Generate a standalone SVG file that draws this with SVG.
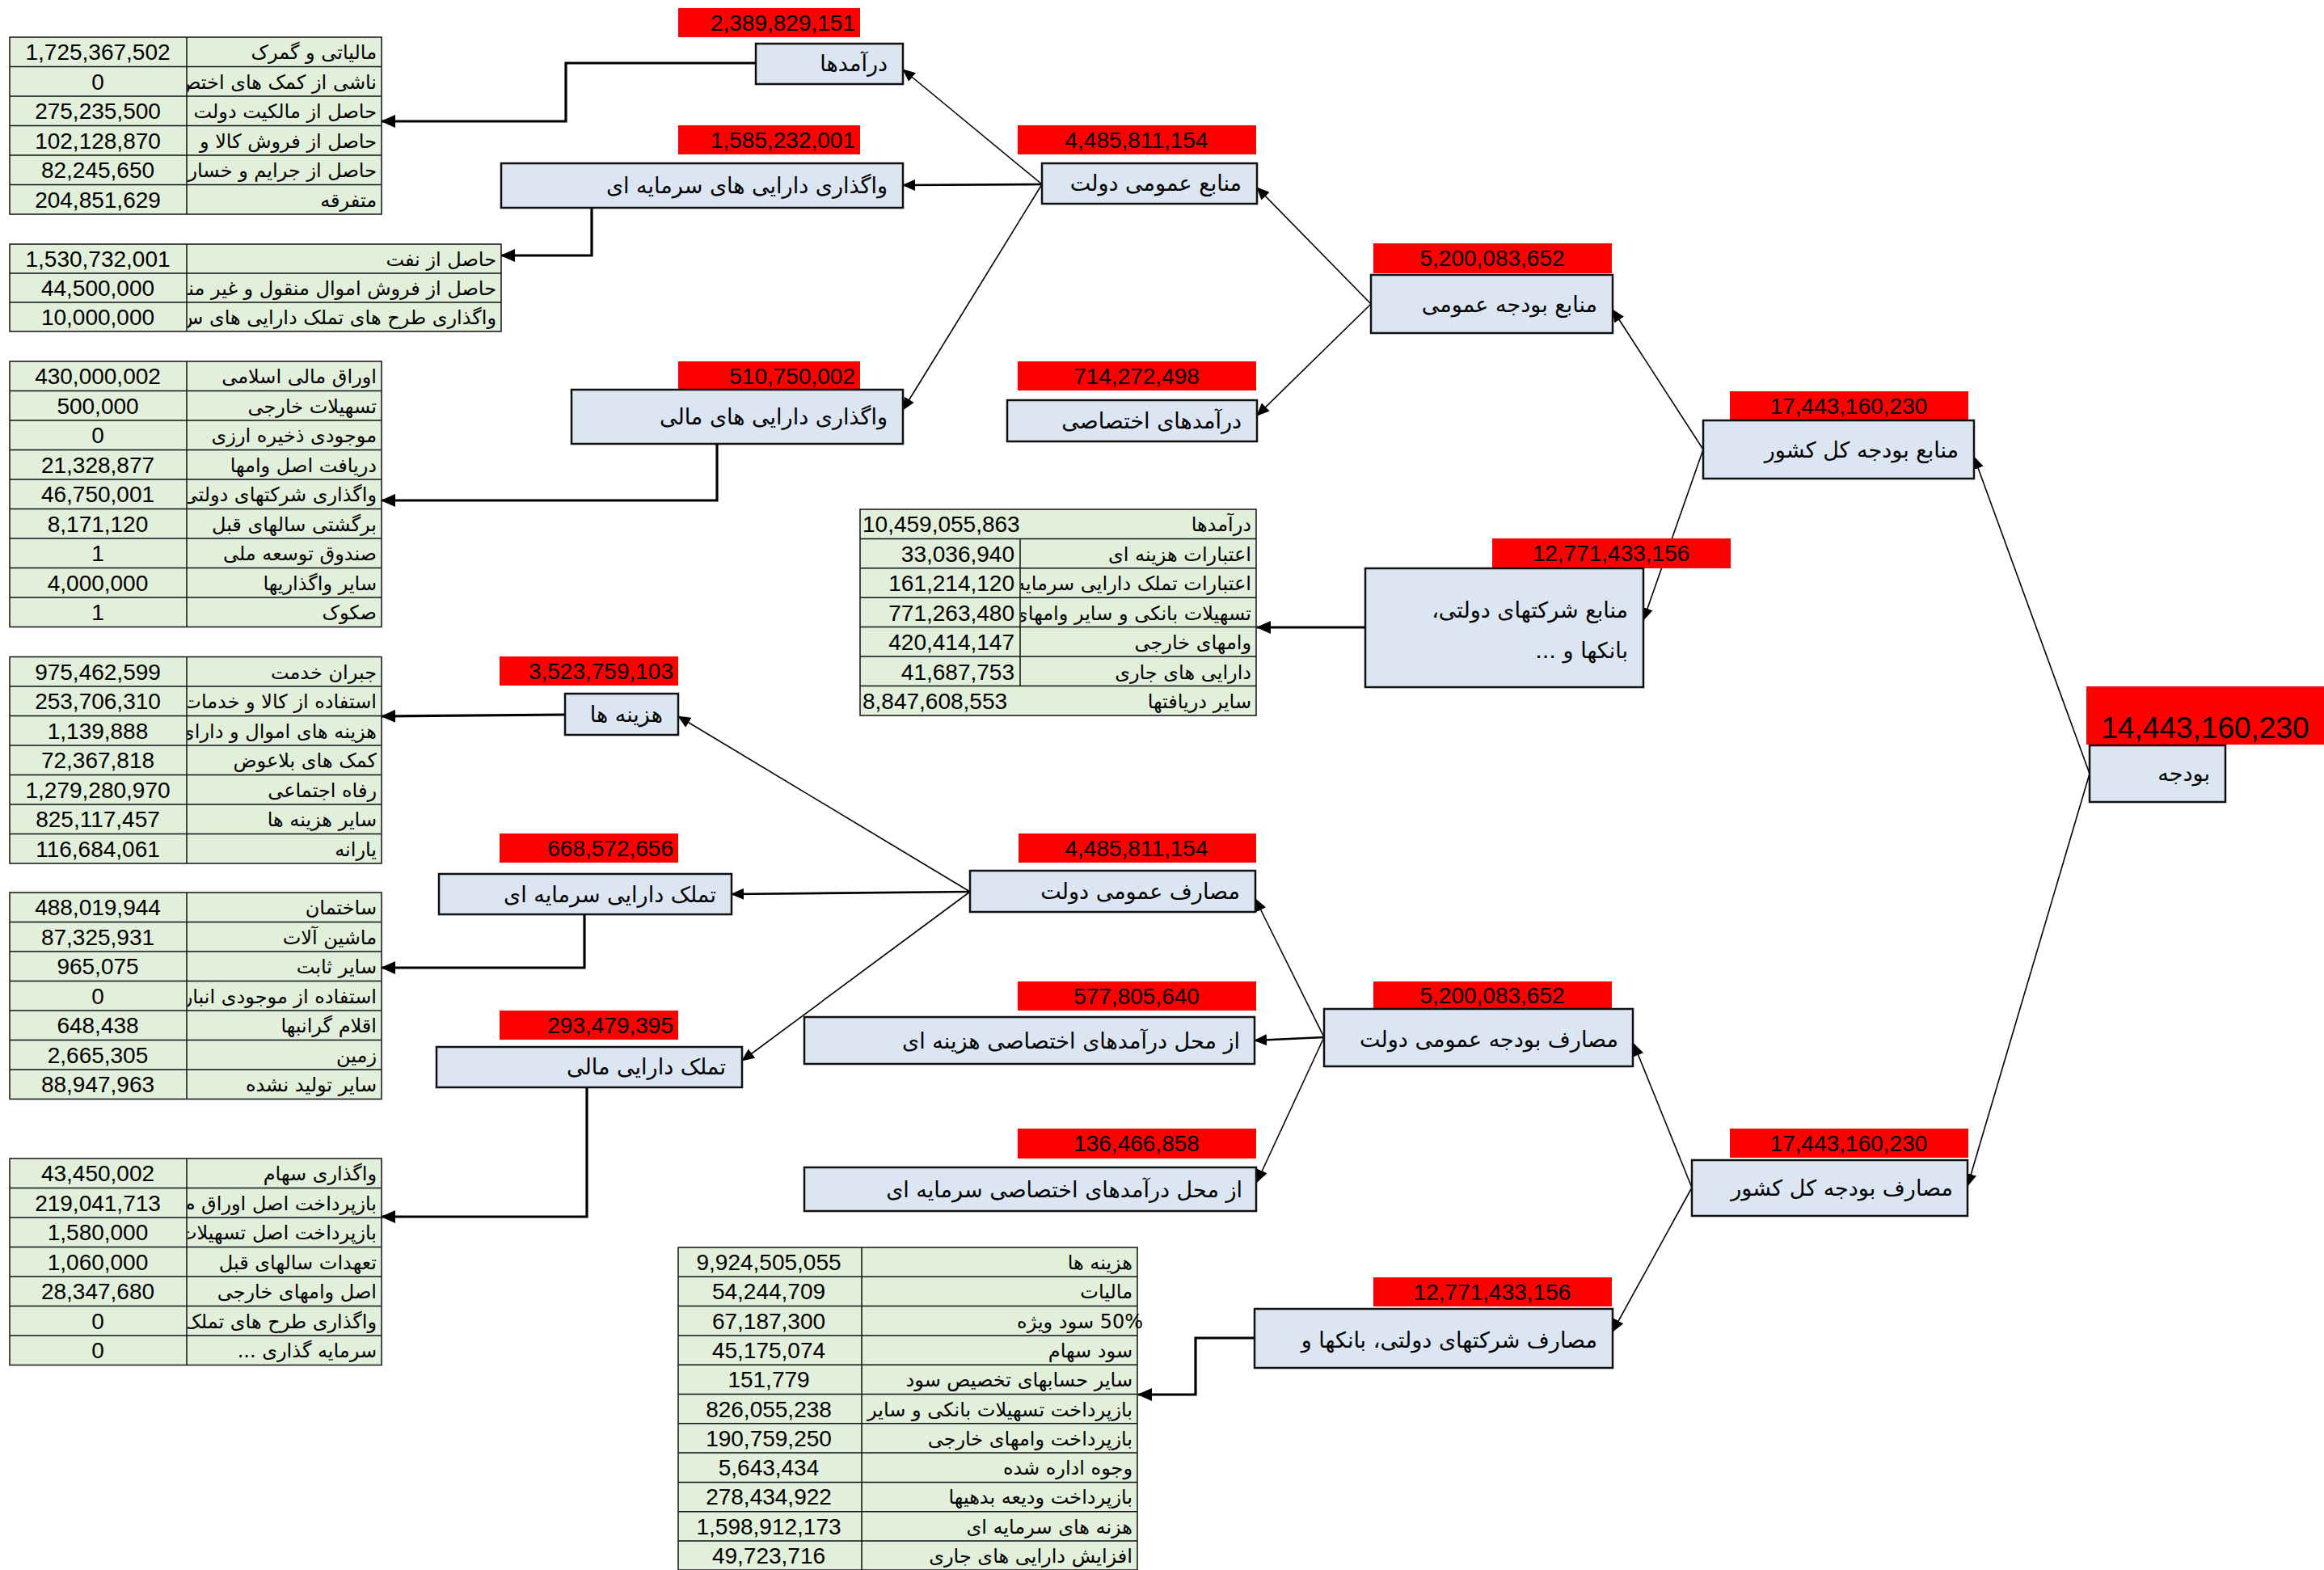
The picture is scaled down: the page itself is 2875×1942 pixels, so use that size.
<svg xmlns="http://www.w3.org/2000/svg" width="2875" height="1942" viewBox="0 0 2875 1942">
<style>
.box{fill:#dce6f2;stroke:#111;stroke-width:2.5}
.lbl{fill:#ff0000}
.num{font-family:"Liberation Sans",Arial,sans-serif;font-size:28px;fill:#000}
.big{font-family:"Liberation Sans",Arial,sans-serif;font-size:37px;fill:#000}
.ar{font-family:"DejaVu Sans",sans-serif;font-size:24px;fill:#000}
.nl{font-family:"DejaVu Sans",sans-serif;font-size:27px;fill:#000}
.tb{fill:#e2efda;stroke:#111;stroke-width:1.5}
.gl{stroke:#111;stroke-width:1.5}
.thin{stroke:#000;stroke-width:1.6;fill:none;marker-end:url(#ah)}
.mid{stroke:#000;stroke-width:2.6;fill:none;marker-end:url(#ah)}
.thick{stroke:#000;stroke-width:3.2;fill:none;marker-end:url(#ahb)}
</style>
<defs>
<marker id="ah" markerUnits="userSpaceOnUse" markerWidth="16" markerHeight="14" refX="15" refY="7" orient="auto"><path d="M0,0 L16,7 L0,14 z" fill="#000"/></marker>
<marker id="ahb" markerUnits="userSpaceOnUse" markerWidth="18" markerHeight="16" refX="17" refY="8" orient="auto"><path d="M0,0 L18,8 L0,16 z" fill="#000"/></marker>
<clipPath id="c1" clipPathUnits="userSpaceOnUse"><rect x="232" y="46" width="240" height="219"/></clipPath>
<clipPath id="c2" clipPathUnits="userSpaceOnUse"><rect x="232" y="302" width="388" height="108"/></clipPath>
<clipPath id="c3" clipPathUnits="userSpaceOnUse"><rect x="232" y="447" width="240" height="329"/></clipPath>
<clipPath id="c4" clipPathUnits="userSpaceOnUse"><rect x="232" y="812" width="240" height="256"/></clipPath>
<clipPath id="c5" clipPathUnits="userSpaceOnUse"><rect x="232" y="1104" width="240" height="256"/></clipPath>
<clipPath id="c6" clipPathUnits="userSpaceOnUse"><rect x="232" y="1433" width="240" height="256"/></clipPath>
<clipPath id="c7" clipPathUnits="userSpaceOnUse"><rect x="1064" y="630" width="490" height="36.4"/><rect x="1263" y="666" width="291" height="183"/><rect x="1064" y="848.6" width="490" height="37"/></clipPath>
<clipPath id="c8" clipPathUnits="userSpaceOnUse"><rect x="1067" y="1543" width="370" height="399"/></clipPath>
</defs>
<rect width="2875" height="1942" fill="#fff"/>

<!-- tables -->
<g id="table-daramadha">
<rect class="tb" x="12" y="46" width="460" height="219"/>
<path class="gl" d="M231,46V265 M12,82.5H472 M12,119H472 M12,155.5H472 M12,192H472 M12,228.5H472"/>
<g class="num" text-anchor="middle"><text x="121" y="74">1,725,367,502</text><text x="121" y="110.5">0</text><text x="121" y="147">275,235,500</text><text x="121" y="183.5">102,128,870</text><text x="121" y="220">82,245,650</text><text x="121" y="256.5">204,851,629</text></g>
<g class="ar" direction="rtl" text-anchor="start" clip-path="url(#c1)"><text x="466" y="73">مالیاتی و گمرک</text><text x="466" y="109.5">ناشی از کمک های اختص</text><text x="466" y="146">حاصل از مالکیت دولت</text><text x="466" y="182.5">حاصل از فروش کالا و</text><text x="466" y="219">حاصل از جرایم و خسار</text><text x="466" y="255.5">متفرقه</text></g>
</g>

<g id="table-sarmayei">
<rect class="tb" x="12" y="302" width="608" height="108"/>
<path class="gl" d="M231,302V410 M12,338H620 M12,374H620"/>
<g class="num" text-anchor="middle"><text x="121" y="330">1,530,732,001</text><text x="121" y="366">44,500,000</text><text x="121" y="402">10,000,000</text></g>
<g class="ar" direction="rtl" text-anchor="start" clip-path="url(#c2)"><text x="614" y="329">حاصل از نفت</text><text x="614" y="365">حاصل از فروش اموال منقول و غیر منق</text><text x="614" y="401">واگذاری طرح های تملک دارایی های س</text></g>
</g>

<g id="table-mali">
<rect class="tb" x="12" y="447" width="460" height="328.5"/>
<path class="gl" d="M231,447V775.5 M12,483.5H472 M12,520H472 M12,556.5H472 M12,593H472 M12,629.5H472 M12,666H472 M12,702.5H472 M12,739H472"/>
<g class="num" text-anchor="middle"><text x="121" y="475">430,000,002</text><text x="121" y="511.5">500,000</text><text x="121" y="548">0</text><text x="121" y="584.5">21,328,877</text><text x="121" y="621">46,750,001</text><text x="121" y="657.5">8,171,120</text><text x="121" y="694">1</text><text x="121" y="730.5">4,000,000</text><text x="121" y="767">1</text></g>
<g class="ar" direction="rtl" text-anchor="start" clip-path="url(#c3)"><text x="466" y="474">اوراق مالی اسلامی</text><text x="466" y="510.5">تسهیلات خارجی</text><text x="466" y="547">موجودی ذخیره ارزی</text><text x="466" y="583.5">دریافت اصل وامها</text><text x="466" y="620">واگذاری شرکتهای دولتی</text><text x="466" y="656.5">برگشتی سالهای قبل</text><text x="466" y="693">صندوق توسعه ملی</text><text x="466" y="729.5">سایر واگذاریها</text><text x="466" y="766">صکوک</text></g>
</g>

<g id="table-hazineha">
<rect class="tb" x="12" y="812.5" width="460" height="255.5"/>
<path class="gl" d="M231,812.5V1068 M12,849H472 M12,885.5H472 M12,922H472 M12,958.5H472 M12,995H472 M12,1031.5H472"/>
<g class="num" text-anchor="middle"><text x="121" y="840.5">975,462,599</text><text x="121" y="877">253,706,310</text><text x="121" y="913.5">1,139,888</text><text x="121" y="950">72,367,818</text><text x="121" y="986.5">1,279,280,970</text><text x="121" y="1023">825,117,457</text><text x="121" y="1059.5">116,684,061</text></g>
<g class="ar" direction="rtl" text-anchor="start" clip-path="url(#c4)"><text x="466" y="839.5">جبران خدمت</text><text x="466" y="876">استفاده از کالا و خدمات</text><text x="466" y="912.5">هزینه های اموال و دارای</text><text x="466" y="949">کمک های بلاعوض</text><text x="466" y="985.5">رفاه اجتماعی</text><text x="466" y="1022">سایر هزینه ها</text><text x="466" y="1058.5">یارانه</text></g>
</g>

<g id="table-tamalok-sarmayei">
<rect class="tb" x="12" y="1104" width="460" height="255.5"/>
<path class="gl" d="M231,1104V1359.5 M12,1140.5H472 M12,1177H472 M12,1213.5H472 M12,1250H472 M12,1286.5H472 M12,1323H472"/>
<g class="num" text-anchor="middle"><text x="121" y="1132">488,019,944</text><text x="121" y="1168.5">87,325,931</text><text x="121" y="1205">965,075</text><text x="121" y="1241.5">0</text><text x="121" y="1278">648,438</text><text x="121" y="1314.5">2,665,305</text><text x="121" y="1351">88,947,963</text></g>
<g class="ar" direction="rtl" text-anchor="start" clip-path="url(#c5)"><text x="466" y="1131">ساختمان</text><text x="466" y="1167.5">ماشین آلات</text><text x="466" y="1204">سایر ثابت</text><text x="466" y="1240.5">استفاده از موجودی انبار</text><text x="466" y="1277">اقلام گرانبها</text><text x="466" y="1313.5">زمین</text><text x="466" y="1350">سایر تولید نشده</text></g>
</g>

<g id="table-tamalok-mali">
<rect class="tb" x="12" y="1433" width="460" height="255.5"/>
<path class="gl" d="M231,1433V1688.5 M12,1469.5H472 M12,1506H472 M12,1542.5H472 M12,1579H472 M12,1615.5H472 M12,1652H472"/>
<g class="num" text-anchor="middle"><text x="121" y="1461">43,450,002</text><text x="121" y="1497.5">219,041,713</text><text x="121" y="1534">1,580,000</text><text x="121" y="1570.5">1,060,000</text><text x="121" y="1607">28,347,680</text><text x="121" y="1643.5">0</text><text x="121" y="1680">0</text></g>
<g class="ar" direction="rtl" text-anchor="start" clip-path="url(#c6)"><text x="466" y="1460">واگذاری سهام</text><text x="466" y="1496.5">بازپرداخت اصل اوراق م</text><text x="466" y="1533">بازپرداخت اصل تسهیلات</text><text x="466" y="1569.5">تعهدات سالهای قبل</text><text x="466" y="1606">اصل وامهای خارجی</text><text x="466" y="1642.5">واگذاری طرح های تملک</text><text x="466" y="1679">سرمایه گذاری ...</text></g>
</g>

<g id="table-manabe-sherkatha">
<rect class="tb" x="1064" y="630" width="490" height="255"/>
<path class="gl" d="M1262,666.4V848.6 M1064,666.4H1554 M1064,702.8H1554 M1064,739.2H1554 M1064,775.6H1554 M1064,812H1554 M1064,848.6H1554"/>
<g class="num"><text x="1067" y="658">10,459,055,863</text><text x="1067" y="876.5">8,847,608,553</text></g>
<g class="num" text-anchor="end"><text x="1255" y="694.5">33,036,940</text><text x="1255" y="731">161,214,120</text><text x="1255" y="767.5">771,263,480</text><text x="1255" y="804">420,414,147</text><text x="1255" y="840.5">41,687,753</text></g>
<g class="ar" direction="rtl" text-anchor="start" clip-path="url(#c7)"><text x="1548" y="657">درآمدها</text><text x="1548" y="693.5">اعتبارات هزینه ای</text><text x="1548" y="730">اعتبارات تملک دارایی سرمایه</text><text x="1548" y="766.5">تسهیلات بانکی و سایر وامهای</text><text x="1548" y="803">وامهای خارجی</text><text x="1548" y="839.5">دارایی های جاری</text><text x="1548" y="876">سایر دریافتها</text></g>
</g>

<g id="table-masaref-sherkatha">
<rect class="tb" x="839" y="1543" width="568" height="399"/>
<path class="gl" d="M1066,1543V1942 M839,1579.3H1407 M839,1615.6H1407 M839,1651.9H1407 M839,1688.2H1407 M839,1724.5H1407 M839,1760.8H1407 M839,1797.1H1407 M839,1833.4H1407 M839,1869.7H1407 M839,1906H1407"/>
<g class="num" text-anchor="middle"><text x="951" y="1571">9,924,505,055</text><text x="951" y="1607.3">54,244,709</text><text x="951" y="1643.6">67,187,300</text><text x="951" y="1679.9">45,175,074</text><text x="951" y="1716.2">151,779</text><text x="951" y="1752.5">826,055,238</text><text x="951" y="1788.8">190,759,250</text><text x="951" y="1825.1">5,643,434</text><text x="951" y="1861.4">278,434,922</text><text x="951" y="1897.7">1,598,912,173</text><text x="951" y="1934">49,723,716</text></g>
<g class="ar" direction="rtl" text-anchor="start" clip-path="url(#c8)"><text x="1401" y="1570">هزینه ها</text><text x="1401" y="1606.3">مالیات</text><text x="1414" y="1642.6">50% سود ویژه</text><text x="1401" y="1678.9">سود سهام</text><text x="1401" y="1715.2">سایر حسابهای تخصیص سود</text><text x="1401" y="1751.5">بازپرداخت تسهیلات بانکی و سایر</text><text x="1401" y="1787.8">بازپرداخت وامهای خارجی</text><text x="1401" y="1824.1">وجوه اداره شده</text><text x="1401" y="1860.4">بازپرداخت ودیعه بدهیها</text><text x="1401" y="1896.7">هزنه های سرمایه ای</text><text x="1401" y="1933">افزایش دارایی های جاری</text></g>
</g>

<!-- connectors -->
<g id="connectors">
<path class="thin" d="M1289,228 L1117,86"/>
<path class="mid" d="M1289,228 L1117,229"/>
<path class="thin" d="M1289,228 L1117,507"/>
<path class="thin" d="M1696,376 L1555,232"/>
<path class="thin" d="M1696,376 L1555,514"/>
<path class="thin" d="M2107,556 L1995,383"/>
<path class="thin" d="M2107,556 L2033,767"/>
<path class="thin" d="M2585,957 L2442,565"/>
<path class="thin" d="M2585,957 L2434,1467"/>
<path class="thin" d="M2093,1469 L2021,1291"/>
<path class="thin" d="M2093,1469 L1995,1647"/>
<path class="thin" d="M1638,1283 L1553,1112"/>
<path class="mid" d="M1638,1283 L1552,1287"/>
<path class="thin" d="M1638,1283 L1555,1462"/>
<path class="thin" d="M1200,1103 L839,886"/>
<path class="mid" d="M1200,1103 L905,1106"/>
<path class="thin" d="M1200,1103 L918,1312"/>
<path class="thick" d="M1689,776 L1555,776"/>
<path class="thick" d="M935,78 H700 V150 H472"/>
<path class="thick" d="M732,257 V316 H620"/>
<path class="thick" d="M887,549 V619 H472"/>
<path class="thick" d="M699,884 L472,886"/>
<path class="thick" d="M723,1131 V1197 H472"/>
<path class="thick" d="M726,1345 V1505 H472"/>
<path class="thick" d="M1552,1655 H1479 V1725 H1408"/>
</g>

<!-- nodes -->
<g id="n-daramadha"><rect class="lbl" x="839" y="10" width="225" height="36"/><text class="num" x="1058" y="38" text-anchor="end">2,389,829,151</text><rect class="box" x="935" y="54" width="182" height="50"/><text class="nl" x="1098" y="88" direction="rtl" text-anchor="start">درآمدها</text></g>
<g id="n-vagozari-sarmayei"><rect class="lbl" x="839" y="155" width="225" height="36"/><text class="num" x="1058" y="183" text-anchor="end">1,585,232,001</text><rect class="box" x="620" y="202" width="497" height="55"/><text class="nl" x="1098" y="239" direction="rtl" text-anchor="start">واگذاری دارایی های سرمایه ای</text></g>
<g id="n-vagozari-mali"><rect class="lbl" x="839" y="447" width="225" height="35"/><text class="num" x="1058" y="475" text-anchor="end">510,750,002</text><rect class="box" x="707" y="482" width="410" height="67"/><text class="nl" x="1098" y="525" direction="rtl" text-anchor="start">واگذاری دارایی های مالی</text></g>
<g id="n-manabe-omumi-dolat"><rect class="lbl" x="1259" y="155" width="295" height="36"/><text class="num" x="1406" y="183" text-anchor="middle">4,485,811,154</text><rect class="box" x="1289" y="202" width="266" height="50"/><text class="nl" x="1536" y="236" direction="rtl" text-anchor="start">منابع عمومی دولت</text></g>
<g id="n-daramadhaye-ekhtesasi"><rect class="lbl" x="1259" y="447" width="295" height="36"/><text class="num" x="1406" y="475" text-anchor="middle">714,272,498</text><rect class="box" x="1246" y="495" width="309" height="51"/><text class="nl" x="1536" y="530" direction="rtl" text-anchor="start">درآمدهای اختصاصی</text></g>
<g id="n-manabe-budje-omumi"><rect class="lbl" x="1699" y="301" width="295" height="37"/><text class="num" x="1846" y="329" text-anchor="middle">5,200,083,652</text><rect class="box" x="1696" y="340" width="299" height="72"/><text class="nl" x="1976" y="386" direction="rtl" text-anchor="start">منابع بودجه عمومی</text></g>
<g id="n-manabe-kol-keshvar"><rect class="lbl" x="2140" y="484" width="295" height="36"/><text class="num" x="2287" y="512" text-anchor="middle">17,443,160,230</text><rect class="box" x="2107" y="520" width="335" height="72"/><text class="nl" x="2423" y="566" direction="rtl" text-anchor="start">منابع بودجه کل کشور</text></g>
<g id="n-manabe-sherkatha"><rect class="lbl" x="1846" y="666" width="295" height="37"/><text class="num" x="1993" y="694" text-anchor="middle">12,771,433,156</text><rect class="box" x="1689" y="703" width="344" height="147"/><text class="nl" x="2014" y="764" direction="rtl" text-anchor="start">منابع شرکتهای دولتی،</text><text class="nl" x="2014" y="814" direction="rtl" text-anchor="start">بانکها و ...</text></g>
<g id="n-budje"><rect class="lbl" x="2581" y="849" width="294" height="72"/><text class="big" x="2728" y="913" text-anchor="middle">14,443,160,230</text><rect class="box" x="2585" y="922" width="168" height="70"/><text class="nl" x="2734" y="966" direction="rtl" text-anchor="start">بودجه</text></g>
<g id="n-hazineha"><rect class="lbl" x="618" y="812" width="221" height="36"/><text class="num" x="833" y="840" text-anchor="end">3,523,759,103</text><rect class="box" x="699" y="858" width="140" height="51"/><text class="nl" x="820" y="893" direction="rtl" text-anchor="start">هزینه ها</text></g>
<g id="n-tamalok-sarmayei"><rect class="lbl" x="618" y="1031" width="221" height="36"/><text class="num" x="833" y="1059" text-anchor="end">668,572,656</text><rect class="box" x="543" y="1081" width="362" height="50"/><text class="nl" x="886" y="1116" direction="rtl" text-anchor="start">تملک دارایی سرمایه ای</text></g>
<g id="n-tamalok-mali"><rect class="lbl" x="618" y="1250" width="221" height="36"/><text class="num" x="833" y="1278" text-anchor="end">293,479,395</text><rect class="box" x="540" y="1295" width="378" height="50"/><text class="nl" x="898" y="1329" direction="rtl" text-anchor="start">تملک دارایی مالی</text></g>
<g id="n-masaref-omumi-dolat"><rect class="lbl" x="1260" y="1031" width="294" height="36"/><text class="num" x="1406" y="1059" text-anchor="middle">4,485,811,154</text><rect class="box" x="1200" y="1077" width="353" height="51"/><text class="nl" x="1534" y="1112" direction="rtl" text-anchor="start">مصارف عمومی دولت</text></g>
<g id="n-mahal-hazinei"><rect class="lbl" x="1259" y="1214" width="295" height="36"/><text class="num" x="1406" y="1242" text-anchor="middle">577,805,640</text><rect class="box" x="995" y="1258" width="557" height="58"/><text class="nl" x="1534" y="1297" direction="rtl" text-anchor="start">از محل درآمدهای اختصاصی هزینه ای</text></g>
<g id="n-mahal-sarmayei"><rect class="lbl" x="1259" y="1396" width="295" height="37"/><text class="num" x="1406" y="1424" text-anchor="middle">136,466,858</text><rect class="box" x="995" y="1444" width="559" height="54"/><text class="nl" x="1537" y="1481" direction="rtl" text-anchor="start">از محل درآمدهای اختصاصی سرمایه ای</text></g>
<g id="n-masaref-budje-omumi"><rect class="lbl" x="1699" y="1214" width="295" height="34"/><text class="num" x="1846" y="1241" text-anchor="middle">5,200,083,652</text><rect class="box" x="1638" y="1248" width="382" height="71"/><text class="nl" x="2002" y="1295" direction="rtl" text-anchor="start">مصارف بودجه عمومی دولت</text></g>
<g id="n-masaref-kol-keshvar"><rect class="lbl" x="2140" y="1396" width="295" height="36"/><text class="num" x="2287" y="1424" text-anchor="middle">17,443,160,230</text><rect class="box" x="2093" y="1435" width="341" height="69"/><text class="nl" x="2416" y="1479" direction="rtl" text-anchor="start">مصارف بودجه کل کشور</text></g>
<g id="n-masaref-sherkatha"><rect class="lbl" x="1699" y="1580" width="295" height="36"/><text class="num" x="1846" y="1608" text-anchor="middle">12,771,433,156</text><rect class="box" x="1552" y="1619" width="443" height="73"/><text class="nl" x="1976" y="1667" direction="rtl" text-anchor="start">مصارف شرکتهای دولتی، بانکها و</text></g>
</svg>
